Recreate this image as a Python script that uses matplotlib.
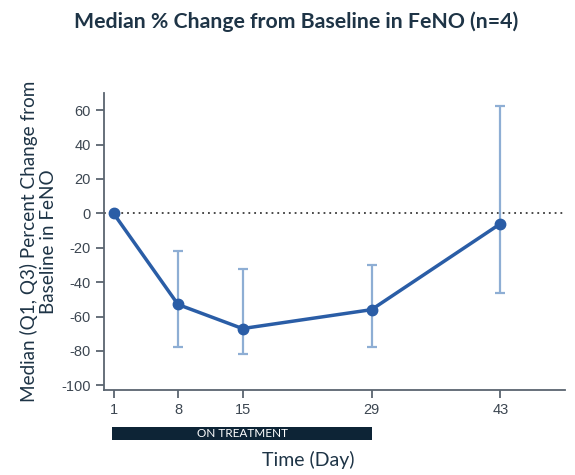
import numpy as np
import matplotlib
matplotlib.use('Agg')
from matplotlib import pyplot as plt
from matplotlib.patches import Rectangle
import matplotlib.transforms as mtransforms

# values
days = [1, 8, 15, 29, 43]
median = [0, -53, -67, -56, -6]
q1 = [np.nan, -78, -82, -78, -46.5]
q3 = [np.nan, -22, -32.5, -30, 62.5]
y_ticks = [60, 40, 20, 0, -20, -40, -60, -80, -100]
treatment = (1, 29)

line_color = '#2a5da6'
err_color = '#8eaed4'
text_color = '#1e3446'
tick_color = '#3c4651'

plt.rcParams['font.family'] = ['Lato', 'DejaVu Sans']
plt.rcParams['axes.unicode_minus'] = False

fig = plt.figure(figsize=(5.75, 4.75), dpi=100)
ax = fig.add_axes([0.1814, 0.179, 0.8012, 0.6253])

d = np.array(days, dtype=float)
m = np.array(median, dtype=float)
lo = np.array(q1)
hi = np.array(q3)
ok = ~np.isnan(lo)
ax.errorbar(d[ok], m[ok], yerr=[m[ok] - lo[ok], hi[ok] - m[ok]], fmt='none',
            ecolor=err_color, elinewidth=1.6, capsize=3.3, capthick=1.6, zorder=2)
ax.axhline(0, color='#3a3a3a', linestyle=(0, (1, 2.2)), linewidth=1.3, zorder=1)
ax.plot(d, m, color=line_color, linewidth=2.5, marker='o', markersize=7.5, zorder=3)

ax.set_xlim(0, 50)
ax.set_ylim(-102.7, 70)
ax.set_xticks(days)
ax.set_yticks(y_ticks)
for s in ['top', 'right']:
    ax.spines[s].set_visible(False)
for s in ['left', 'bottom']:
    ax.spines[s].set_color('#5a6570')
    ax.spines[s].set_linewidth(1.3)
ax.tick_params(colors='#5a6570', width=1.3, length=6, labelcolor=tick_color, labelsize=10.5)
for lab in ax.get_xticklabels() + ax.get_yticklabels():
    lab.set_fontfamily(['Liberation Sans', 'DejaVu Sans'])

ax.set_ylabel('Median (Q1, Q3) Percent Change from\nBaseline in FeNO', fontsize=13.6,
              color=text_color, linespacing=1.15)
ax.yaxis.set_label_coords(-0.103, 0.5)

# on-treatment bar below the axis
trans = mtransforms.blended_transform_factory(ax.transData, ax.transAxes)
ax.add_patch(Rectangle((treatment[0] - 0.15, -0.168), treatment[1] - treatment[0] + 0.15, 0.045,
                       transform=trans, facecolor='#0d2436', clip_on=False))
ax.text((treatment[0] + treatment[1]) / 2, -0.146, 'ON TREATMENT', transform=trans,
        ha='center', va='center', color='white', fontsize=8.5)

fig.text(0.536, 0.032, 'Time (Day)', ha='center', va='center', fontsize=14, color=text_color)
fig.text(0.515, 0.955, 'Median % Change from Baseline in FeNO (n=4)', ha='center', va='center',
         fontsize=15.3, fontweight='bold', color=text_color)

fig.savefig('out.png', dpi=100)
